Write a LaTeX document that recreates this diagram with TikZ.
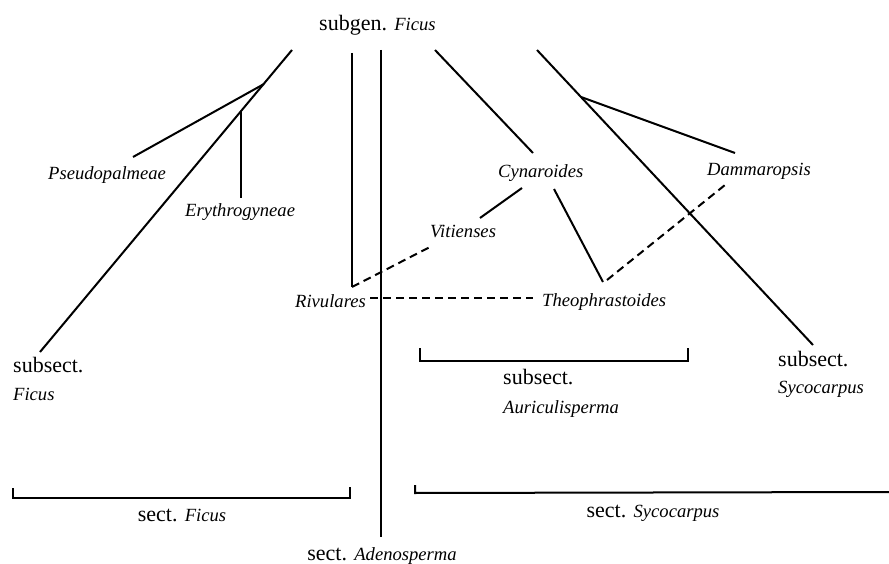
\documentclass[tikz,border=0pt]{standalone}
\usepackage{fontspec}
\setmainfont{Liberation Serif}
\newcommand\romx[1]{{\fontsize{22}{28}\selectfont #1}}
\newcommand\itx[1]{{\fontsize{18.6}{28}\selectfont\itshape #1}}
\tikzset{
  lbl/.style={inner sep=0pt},
  branch/.style={line width=2pt},
  link/.style={line width=2pt, dash pattern=on 8pt off 5pt},
  bracket/.style={line width=2pt}
}
\begin{document}
\begin{tikzpicture}[x=1pt,y=-1pt]
\useasboundingbox (0,0) rectangle (889,564);
% labels
\node[lbl, anchor=base west] (subgen) at (319,31) {\romx{subgen. }\itx{Ficus}};
\node[lbl, anchor=base west] (pseudo) at (48,180) {\itx{Pseudopalmeae}};
\node[lbl, anchor=base west] (erythro) at (185,217) {\itx{Erythrogyneae}};
\node[lbl, anchor=base west] (viti) at (430,237) {\itx{Vitienses}};
\node[lbl, anchor=base west] (rivu) at (295,307) {\itx{Rivulares}};
\node[lbl, anchor=base west] (cyna) at (498,178) {\itx{Cynaroides}};
\node[lbl, anchor=base west] (damm) at (707,176) {\itx{Dammaropsis}};
\node[lbl, anchor=base west] (theo) at (542,306) {\itx{Theophrastoides}};
\node[lbl, anchor=base west] (ssfA) at (13,372) {\romx{subsect.}};
\node[lbl, anchor=base west] (ssfB) at (13,400) {\itx{Ficus}};
\node[lbl, anchor=base west] (ssaA) at (503,384) {\romx{subsect.}};
\node[lbl, anchor=base west] (ssaB) at (503,413) {\itx{Auriculisperma}};
\node[lbl, anchor=base west] (sssA) at (778,366) {\romx{subsect.}};
\node[lbl, anchor=base west] (sssB) at (778,393) {\itx{Sycocarpus}};
\node[lbl, anchor=base] (sfic) at (182,521) {\romx{sect. }\itx{Ficus}};
\node[lbl, anchor=base] (ssyc) at (653,517) {\romx{sect. }\itx{Sycocarpus}};
\node[lbl, anchor=base] (sade) at (382,560) {\romx{sect. }\itx{Adenosperma}};
% connector end points
\coordinate (lTop) at (292,50);
\coordinate (lBot) at (40,352);
\coordinate (pJoin) at (264,84);
\coordinate (pEnd) at (133,157);
\coordinate (eJoin) at (241,112);
\coordinate (eEnd) at (241,198);
\coordinate (v1Top) at (352,53);
\coordinate (v1Bot) at (352,287);
\coordinate (v2Top) at (381,50);
\coordinate (v2Bot) at (381,537);
\coordinate (cTop) at (435,50);
\coordinate (cEnd) at (533,153);
\coordinate (cvA) at (522,188);
\coordinate (cvB) at (480,218);
\coordinate (ctA) at (554,189);
\coordinate (ctB) at (603,282);
\coordinate (tdA) at (607,280);
\coordinate (tdB) at (725,185);
\coordinate (rTop) at (537,50);
\coordinate (rBot) at (813,345);
\coordinate (dJoin) at (581,97);
\coordinate (dEnd) at (735,153);
\coordinate (rvB) at (430,247);
\coordinate (rtA) at (370,298);
\coordinate (rtB) at (533,298);
% solid branches
\draw[branch] (lTop) -- (lBot);
\draw[branch] (pJoin) -- (pEnd);
\draw[branch] (eJoin) -- (eEnd);
\draw[branch] (v1Top) -- (v1Bot);
\draw[branch] (v2Top) -- (v2Bot);
\draw[branch] (cTop) -- (cEnd);
\draw[branch] (cvA) -- (cvB);
\draw[branch] (ctA) -- (ctB);
\draw[branch] (rTop) -- (rBot);
\draw[branch] (dJoin) -- (dEnd);
% dashed links
\draw[link] (v1Bot) -- (rvB);
\draw[link] (rtA) -- (rtB);
\draw[link] (tdA) -- (tdB);
% brackets
\draw[bracket] (13,488) -- (13,498) -- (350,498) -- (350,487);
\draw[bracket] (420,348) -- (420,361) -- (688,361) -- (688,348);
\draw[bracket] (415,485) -- (415,493) -- (889,492);
\end{tikzpicture}
\end{document}
